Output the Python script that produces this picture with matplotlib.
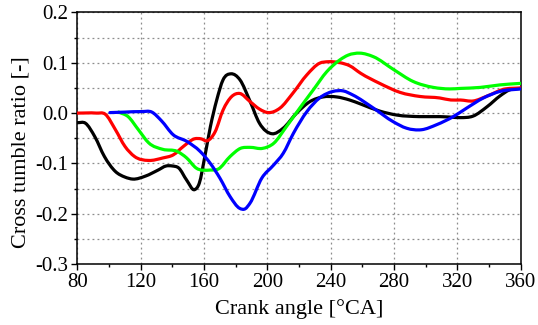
import matplotlib
matplotlib.use("Agg")
import matplotlib.pyplot as plt
from matplotlib.path import Path
from matplotlib.patches import PathPatch
from matplotlib.ticker import MultipleLocator, FormatStrFormatter

matplotlib.rcParams.update({'font.family': 'Liberation Serif', 'font.size': 15})

# cross tumble ratio vs crank angle, one set of samples per case
ca_black = [80, 85, 91, 97, 104, 110, 115, 123, 131, 136, 140, 144, 149, 154, 157,
            160.5, 164, 168, 172, 177, 182.7, 189, 195, 203, 210, 218.5, 227, 235,
            244, 252, 259, 271, 282, 296, 309, 316, 322, 330, 339, 347, 353, 360]
tr_black = [-0.019, -0.020, -0.047, -0.086, -0.116, -0.127, -0.131, -0.125, -0.113,
            -0.105, -0.105, -0.109, -0.133, -0.152, -0.139, -0.086, -0.027, 0.026,
            0.066, 0.078, 0.066, 0.024, -0.020, -0.041, -0.030, 0.000, 0.023, 0.032,
            0.032, 0.026, 0.018, 0.004, -0.004, -0.007, -0.007, -0.008, -0.009,
            -0.006, 0.013, 0.034, 0.046, 0.049]

ca_red = [80, 92, 97.5, 104, 110, 116, 125, 134, 140.5, 147, 154, 158, 162, 167, 172,
          177.5, 182.5, 189, 195, 200.5, 208, 216, 225, 233, 238.5, 246, 252, 259,
          271, 284, 296.5, 309, 316, 322, 330, 339, 349, 360]
tr_red = [0.000, 0.000, -0.002, -0.033, -0.066, -0.086, -0.094, -0.089, -0.083, -0.066,
          -0.051, -0.051, -0.055, -0.037, 0.006, 0.033, 0.039, 0.023, 0.008, 0.001,
          0.010, 0.039, 0.076, 0.099, 0.102, 0.100, 0.094, 0.079, 0.059, 0.041, 0.033,
          0.030, 0.026, 0.026, 0.024, 0.034, 0.047, 0.050]

ca_green = [106, 112, 118.5, 125, 134, 143, 149, 155, 164, 169, 176.5, 183, 189, 197,
            204, 212, 220.5, 229, 237.5, 246, 251, 258.5, 267, 280, 292, 305, 315,
            322, 334.5, 347, 360]
tr_green = [0.002, -0.007, -0.033, -0.059, -0.072, -0.076, -0.089, -0.109, -0.113,
            -0.111, -0.086, -0.070, -0.068, -0.070, -0.060, -0.027, 0.010, 0.046,
            0.082, 0.106, 0.115, 0.119, 0.112, 0.086, 0.063, 0.051, 0.048, 0.049,
            0.051, 0.056, 0.059]

ca_blue = [100.5, 110, 120.5, 127, 133, 140.5, 149, 157.5, 164, 170, 176.5, 182.5, 186,
           189, 196.5, 204, 210, 216.5, 225, 233, 241.5, 248, 254, 267, 279.5, 288,
           297.5, 307, 317.5, 326, 336.5, 347, 360]
tr_blue = [0.001, 0.002, 0.003, 0.002, -0.015, -0.043, -0.056, -0.076, -0.100, -0.129,
           -0.166, -0.189, -0.190, -0.179, -0.129, -0.103, -0.080, -0.040, 0.003, 0.030,
           0.043, 0.044, 0.036, 0.010, -0.017, -0.030, -0.033, -0.023, -0.007, 0.010,
           0.030, 0.043, 0.048]


def smooth_path(xs, ys):
    # cubic Hermite through the samples, written as Bezier segments
    n = len(xs)
    slopes = []
    for i in range(n):
        if i == 0:
            m = (ys[1] - ys[0]) / (xs[1] - xs[0])
        elif i == n - 1:
            m = (ys[-1] - ys[-2]) / (xs[-1] - xs[-2])
        else:
            h0, h1 = xs[i] - xs[i - 1], xs[i + 1] - xs[i]
            d0 = (ys[i] - ys[i - 1]) / h0
            d1 = (ys[i + 1] - ys[i]) / h1
            m = (d0 * h1 + d1 * h0) / (h0 + h1)
        slopes.append(m)
    verts = [(xs[0], ys[0])]
    codes = [Path.MOVETO]
    for i in range(n - 1):
        h = (xs[i + 1] - xs[i]) / 3.0
        verts += [(xs[i] + h, ys[i] + slopes[i] * h),
                  (xs[i + 1] - h, ys[i + 1] - slopes[i + 1] * h),
                  (xs[i + 1], ys[i + 1])]
        codes += [Path.CURVE4] * 3
    return Path(verts, codes)


fig = plt.figure(figsize=(5.38, 3.25), dpi=100)
ax = fig.add_axes([0.144, 0.187, 0.8235, 0.775])

lw = 2.3
for xs, ys, c in [(ca_black, tr_black, 'black'),
                  (ca_red, tr_red, '#ff0000'),
                  (ca_green, tr_green, '#00ff00'),
                  (ca_blue, tr_blue, '#0000ff')]:
    ax.add_patch(PathPatch(smooth_path(xs, ys), fill=False, edgecolor=c, lw=lw,
                           capstyle='round', joinstyle='round', zorder=3))

ax.set_xlim(80, 360)
ax.set_ylim(-0.3, 0.2)
ax.xaxis.set_major_locator(MultipleLocator(40))
ax.xaxis.set_minor_locator(MultipleLocator(20))
ax.yaxis.set_major_locator(MultipleLocator(0.1))
ax.yaxis.set_minor_locator(MultipleLocator(0.05))
ax.yaxis.set_major_formatter(FormatStrFormatter('%.1f'))

ax.tick_params(which='major', direction='out', length=4.5, width=1.0, pad=2)
ax.tick_params(which='minor', direction='out', length=2.5, width=1.0)
ax.tick_params(top=False, right=False)

ax.grid(True, which='major', axis='x', color='#8c8c8c', ls=(0, (1.5, 2.5)), lw=0.9)
ax.grid(True, which='both', axis='y', color='#8c8c8c', ls=(0, (1.5, 2.5)), lw=0.9)

for s in ax.spines.values():
    s.set_linewidth(1.1)

ax.set_xlabel('Crank angle [°CA]', fontsize=16, labelpad=5)
ax.set_ylabel('Cross tumble ratio [-]', fontsize=16)
ax.yaxis.set_label_coords(-0.107, 0.446)

fig.savefig('out.png', dpi=100)
